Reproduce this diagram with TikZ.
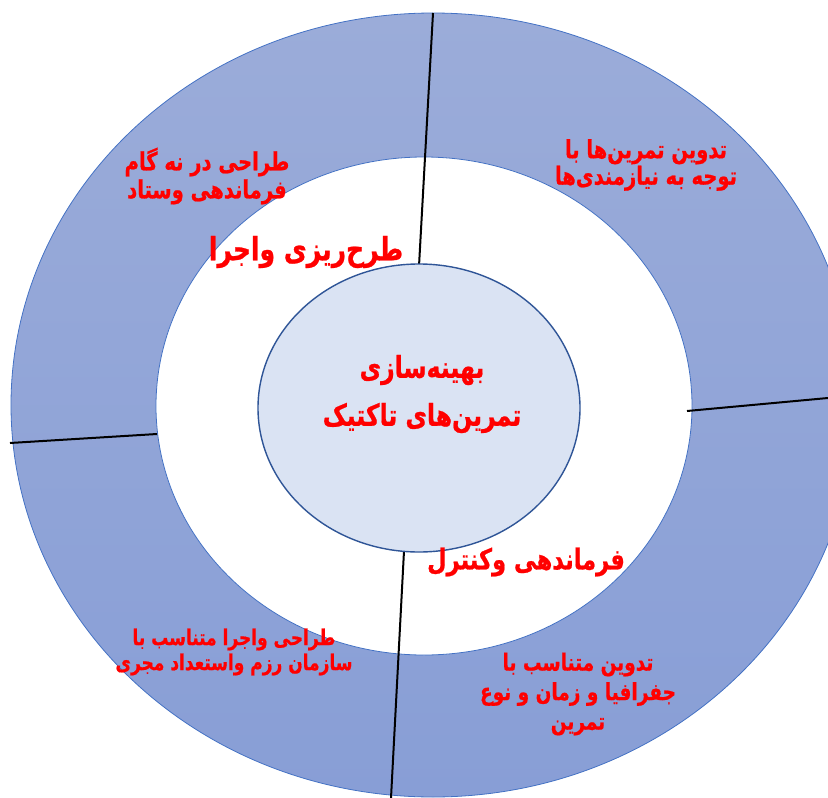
\documentclass[tikz,border=0pt]{standalone}
\usepackage{graphicx}
\usepackage{fontspec}
\TeXXeTstate=1
\newfontfamily\arabicfont[Script=Arabic, BoldFeatures={FakeBold=0.8}]{DejaVu Sans}
\newcommand{\fa}[1]{\scalebox{1}[1.28]{\beginR #1\endR}}
\definecolor{ringtop}{HTML}{9BACD9}
\definecolor{ringbot}{HTML}{889ED6}
\definecolor{ringline}{HTML}{4472C4}
\definecolor{corefill}{HTML}{DAE3F3}
\definecolor{coreline}{HTML}{2F5597}
\definecolor{txtred}{HTML}{FF0000}
\tikzset{
  lbl/.style={text=txtred, align=center, inner sep=0pt},
  ringtxt/.style={lbl, font=\arabicfont\bfseries\fontsize{19.5}{28}\selectfont},
  midtxt/.style={lbl, font=\arabicfont\bfseries\fontsize{25}{30}\selectfont},
  coretxt/.style={lbl, font=\arabicfont\bfseries\fontsize{23.5}{48}\selectfont},
  spoke/.style={black, line width=2pt},
}
\begin{document}
\begin{tikzpicture}[x=1pt,y=-1pt]
\useasboundingbox (0,0) rectangle (828,798);
\clip (0,0) rectangle (828,798);
% outer ring
\shade[top color=ringtop, bottom color=ringbot] (433,405) ellipse [x radius=422, y radius=392];
\draw[ringline, line width=0.8pt] (433,405) ellipse [x radius=422, y radius=392];
% inner white disc
\fill[white] (424,406) ellipse [x radius=268, y radius=249];
\draw[ringline, line width=0.8pt] (424,406) ellipse [x radius=268, y radius=249];
% spokes
\coordinate (st1) at (433,13);  \coordinate (st2) at (419,266);
\coordinate (sb1) at (404,551); \coordinate (sb2) at (391,798);
\coordinate (sl1) at (10,443);  \coordinate (sl2) at (157,434);
\coordinate (sr1) at (687,411); \coordinate (sr2) at (828,398);
\draw[spoke] (st1) -- (st2);
\draw[spoke] (sb1) -- (sb2);
\draw[spoke] (sl1) -- (sl2);
\draw[spoke] (sr1) -- (sr2);
% core
\fill[corefill] (419,408) ellipse [x radius=161, y radius=144];
\draw[coreline, line width=1.4pt] (419,408) ellipse [x radius=161, y radius=144];
% texts
\node[coretxt] (core) at (422,394) {\fa{بهینه‌سازی}\\\fa{تمرین‌های تاکتیک}};
\node[ringtxt] (tl) at (207,176) {\fa{طراحی در نه گام}\\\fa{فرماندهی وستاد}};
\node[ringtxt, font=\arabicfont\bfseries\fontsize{19.5}{26.5}\selectfont] (tr) at (646,165) {\fa{تدوین تمرین‌ها با}\\\fa{توجه به نیازمندی‌ها}};
\node[midtxt] (plan) at (306,252) {\fa{طرح‌ریزی واجرا}};
\node[midtxt, font=\arabicfont\bfseries\fontsize{22.5}{30}\selectfont] (cmd) at (526,562) {\fa{فرماندهی وکنترل}};
\node[ringtxt, font=\arabicfont\bfseries\fontsize{17}{25}\selectfont] (bl) at (234,652) {\fa{طراحی واجرا متناسب با}\\\fa{سازمان رزم واستعداد مجری}};
\node[ringtxt, font=\arabicfont\bfseries\fontsize{18.5}{29.5}\selectfont] (br) at (578,694) {\fa{تدوین متناسب با}\\\fa{جفرافیا و زمان و نوع}\\\fa{تمرین}};
\end{tikzpicture}
\end{document}
